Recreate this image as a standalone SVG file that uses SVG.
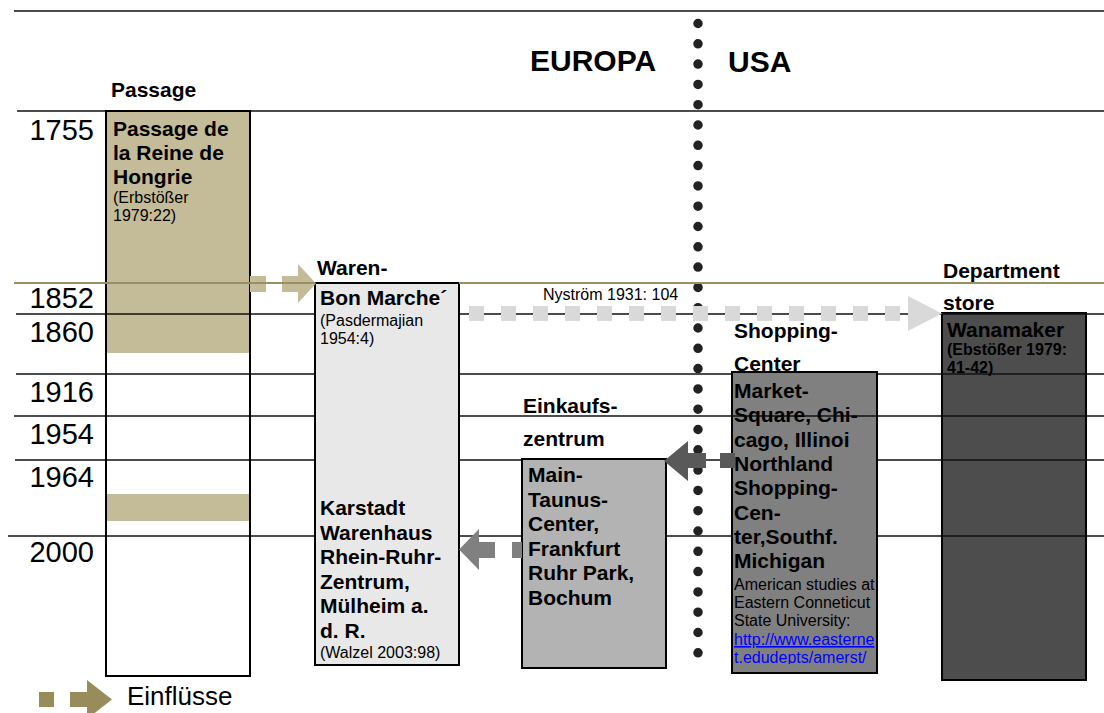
<svg xmlns="http://www.w3.org/2000/svg" width="1104" height="713" viewBox="0 0 1104 713">
<defs>
<style>
text{font-family:"Liberation Sans",Arial,sans-serif;fill:#000}
.h{font-size:21px;font-weight:bold}
.s{font-size:16px}
.sb{font-size:16px;font-weight:bold}
.yr{font-size:29px;text-anchor:end}
.t{font-size:30px;font-weight:bold}
.lg{font-size:26px}
.grid line,.gl{stroke:#111;stroke-width:1.6}
.olive{stroke:#988f62;stroke-width:2}
.box{stroke:#000;stroke-width:2}
.tan{fill:#c4bc98}
.lt{fill:#d9d9d9}
.dk{fill:#595959}
.md{fill:#808080}
.leg{fill:#978c5a}
.link{fill:#0000ff;text-decoration:underline}
</style>
<clipPath id="shopClip"><rect x="732" y="372" width="145" height="292"/></clipPath>
</defs>
<rect width="1104" height="713" fill="#fff"/>

<!-- background fills -->
<rect class="tan" x="107" y="111" width="143" height="242"/>
<rect class="tan" x="106" y="494" width="145" height="27"/>

<g id="node-wanamaker-box">
<rect class="box" x="942" y="313" width="144" height="367" fill="#4d4d4d"/>
</g>

<g class="grid" id="grid">
<line x1="14" y1="11" x2="1104" y2="11"/>
<line x1="17" y1="111" x2="1104" y2="111"/>
<line x1="16" y1="314" x2="1104" y2="314"/>
<line x1="16" y1="374" x2="1104" y2="374"/>
<line x1="14" y1="416" x2="1104" y2="416"/>
<line x1="15" y1="460" x2="1104" y2="460"/>
<line x1="8" y1="536" x2="1104" y2="536"/>
</g>

<g id="node-shopping-box">
<rect class="box" x="732" y="372" width="145" height="301" fill="#808080"/>
<line class="gl" x1="732" y1="416" x2="877" y2="416"/>
</g>
<g id="node-bonmarche-box">
<rect class="box" x="315" y="283" width="144" height="382" fill="#e8e8e8"/>
</g>
<g id="node-maintaunus-box">
<rect class="box" x="522" y="459" width="144" height="209" fill="#b3b3b3"/>
</g>
<g id="node-passage-box">
<rect class="box" x="106" y="111" width="144" height="565" fill="none"/>
</g>

<!-- Europe / USA divider -->
<line id="divider" x1="698" y1="23.5" x2="698" y2="654" stroke="#222" stroke-width="9.5" stroke-linecap="round" stroke-dasharray="0 20.3"/>

<g id="connectors">
<g id="arrow-passage-bonmarche" class="tan">
<rect x="250" y="276" width="16" height="16"/>
<rect x="282" y="276" width="17" height="16"/>
<polygon points="298,264 316,283.5 298,303"/>
</g>
<g id="arrow-nystroem" class="lt">
<rect x="469" y="306" width="15" height="15"/>
<rect x="501" y="306" width="15" height="15"/>
<rect x="533" y="306" width="15" height="15"/>
<rect x="565" y="306" width="15" height="15"/>
<rect x="597" y="306" width="15" height="15"/>
<rect x="629" y="306" width="15" height="15"/>
<rect x="661" y="306" width="15" height="15"/>
<rect x="693" y="306" width="15" height="15"/>
<rect x="725" y="306" width="15" height="15"/>
<rect x="757" y="306" width="15" height="15"/>
<rect x="789" y="306" width="15" height="15"/>
<rect x="821" y="306" width="15" height="15"/>
<rect x="853" y="306" width="15" height="15"/>
<rect x="885" y="306" width="15" height="15"/>
<polygon points="908,296 942,313.5 908,331"/>
</g>
<g id="arrow-shopping-maintaunus" class="dk">
<polygon points="664,461 688,441 688,481"/>
<rect x="688" y="453" width="18" height="15"/>
<rect x="720" y="453" width="15" height="15"/>
</g>
<g id="arrow-maintaunus-karstadt" class="md">
<polygon points="459,549.5 479,529 479,570"/>
<rect x="479" y="542" width="16" height="16"/>
<rect x="512" y="542" width="10" height="16"/>
</g>
</g>

<line class="olive" x1="14" y1="283" x2="315" y2="283"/>
<line class="olive" x1="459" y1="283" x2="1104" y2="283"/>

<!-- titles -->
<text class="t" x="530" y="71">EUROPA</text>
<text class="t" x="728" y="72">USA</text>

<!-- years -->
<g id="years">
<text class="yr" x="94" y="140">1755</text>
<text class="yr" x="94" y="308">1852</text>
<text class="yr" x="94" y="342">1860</text>
<text class="yr" x="94" y="402">1916</text>
<text class="yr" x="94" y="444">1954</text>
<text class="yr" x="94" y="487">1964</text>
<text class="yr" x="94" y="562">2000</text>
</g>

<g id="node-passage">
<text class="h" x="111" y="97">Passage</text>
<text class="h" x="113" y="136">Passage de</text>
<text class="h" x="113" y="160">la Reine de</text>
<text class="h" x="113" y="184">Hongrie</text>
<text class="s" x="113" y="203">(Erbstößer</text>
<text class="s" x="113" y="221">1979:22)</text>
</g>

<g id="node-bonmarche">
<text class="h" x="317" y="275">Waren-</text>
<text class="h" x="320" y="305">Bon Marche´</text>
<text class="s" x="320" y="326">(Pasdermajian</text>
<text class="s" x="320" y="344">1954:4)</text>
<text class="h" x="320" y="515">Karstadt</text>
<text class="h" x="320" y="539.5">Warenhaus</text>
<text class="h" x="320" y="564">Rhein-Ruhr-</text>
<text class="h" x="320" y="588.5">Zentrum,</text>
<text class="h" x="320" y="613">Mülheim a.</text>
<text class="h" x="320" y="637.5">d. R.</text>
<text class="s" x="320" y="658">(Walzel 2003:98)</text>
</g>

<g id="node-maintaunus">
<text class="h" x="523" y="413">Einkaufs-</text>
<text class="h" x="523" y="446">zentrum</text>
<text class="h" x="528" y="482">Main-</text>
<text class="h" x="528" y="506.5">Taunus-</text>
<text class="h" x="528" y="531">Center,</text>
<text class="h" x="528" y="555.5">Frankfurt</text>
<text class="h" x="528" y="580">Ruhr Park,</text>
<text class="h" x="528" y="604.5">Bochum</text>
</g>

<g id="node-shopping">
<text class="h" x="734" y="338">Shopping-</text>
<text class="h" x="734" y="371">Center</text>
<g clip-path="url(#shopClip)">
<text class="h" x="734" y="398">Market-</text>
<text class="h" x="734" y="422.3">Square, Chi-</text>
<text class="h" x="734" y="446.6">cago, Illinoi</text>
<text class="h" x="734" y="470.9">Northland</text>
<text class="h" x="734" y="495.2">Shopping-</text>
<text class="h" x="734" y="519.5">Cen-</text>
<text class="h" x="734" y="543.8">ter,Southf.</text>
<text class="h" x="734" y="568.1">Michigan</text>
<text class="s" x="734" y="590">American studies at</text>
<text class="s" x="734" y="608">Eastern Conneticut</text>
<text class="s" x="734" y="626">State University:</text>
<text class="s link" x="734" y="645">http://www.easterne</text>
<text class="s link" x="734" y="663">t.edudepts/amerst/</text>
</g>
</g>

<g id="node-wanamaker">
<text class="h" x="943" y="278">Department</text>
<text class="h" x="943" y="310">store</text>
<text class="h" x="947" y="337">Wanamaker</text>
<text class="sb" x="947" y="355">(Ebstößer 1979:</text>
<text class="sb" x="947" y="373">41-42)</text>
</g>

<text class="s" x="543" y="300">Nyström 1931: 104</text>

<g id="legend">
<rect class="leg" x="39" y="692" width="15" height="15"/>
<rect class="leg" x="70" y="692" width="17" height="15"/>
<polygon class="leg" points="87,680 112,699.5 87,719"/>
<text class="lg" x="127" y="705">Einflüsse</text>
</g>
</svg>
